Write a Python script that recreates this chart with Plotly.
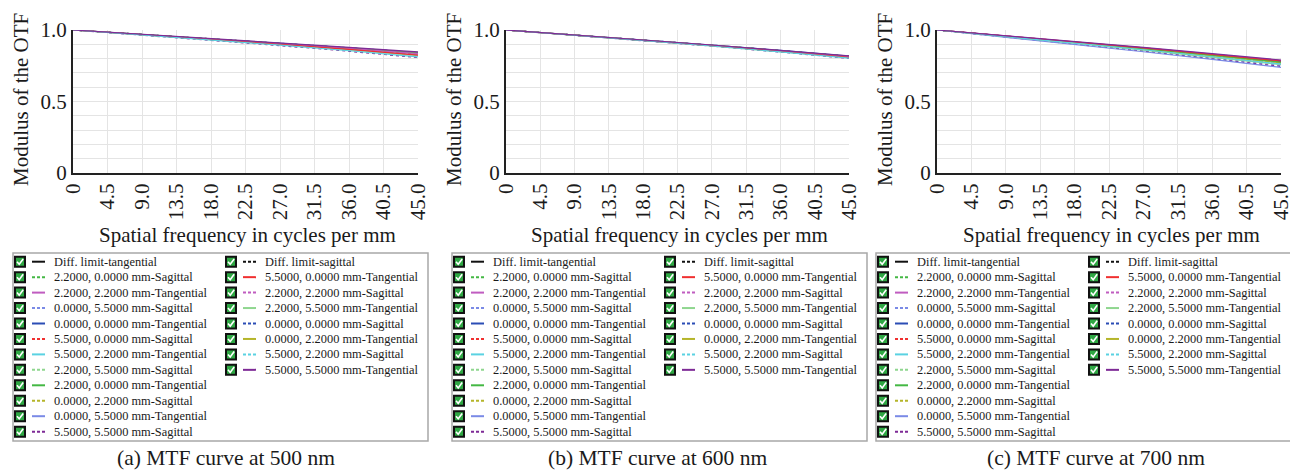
import plotly.graph_objects as go

W, H = 1290, 471

# spatial frequency samples (cycles/mm)
FREQ = [0, 9, 18, 27, 36, 45]

FIELDS = ["0.0000, 0.0000", "0.0000, 2.2000", "0.0000, 5.5000",
          "2.2000, 0.0000", "2.2000, 2.2000", "2.2000, 5.5000",
          "5.5000, 0.0000", "5.5000, 2.2000", "5.5000, 5.5000"]
FIELD_COLORS = ["#2b4db5", "#b5b52a", "#7a8ae6",
                "#44b844", "#c05cc0", "#8fd68f",
                "#f03030", "#5ad2e2", "#7e2a96"]

# MTF values, one list per field (same order as FIELDS)
MTF_500_T = [[1, 0.970, 0.940, 0.908, 0.876, 0.842],
             [1, 0.969, 0.939, 0.906, 0.873, 0.838],
             [1, 0.968, 0.935, 0.900, 0.864, 0.826],
             [1, 0.969, 0.939, 0.906, 0.873, 0.838],
             [1, 0.969, 0.938, 0.905, 0.871, 0.835],
             [1, 0.967, 0.933, 0.897, 0.860, 0.820],
             [1, 0.968, 0.935, 0.900, 0.864, 0.825],
             [1, 0.966, 0.931, 0.894, 0.855, 0.812],
             [1, 0.971, 0.941, 0.910, 0.879, 0.847]]
MTF_500_S = [[1, 0.970, 0.940, 0.908, 0.876, 0.842],
             [1, 0.970, 0.939, 0.907, 0.874, 0.840],
             [1, 0.969, 0.937, 0.903, 0.868, 0.832],
             [1, 0.970, 0.939, 0.907, 0.874, 0.840],
             [1, 0.969, 0.938, 0.905, 0.871, 0.836],
             [1, 0.968, 0.936, 0.901, 0.866, 0.828],
             [1, 0.969, 0.937, 0.903, 0.868, 0.832],
             [1, 0.967, 0.934, 0.898, 0.861, 0.822],
             [1, 0.965, 0.929, 0.891, 0.851, 0.807]]

MTF_600_T = [[1, 0.966, 0.931, 0.894, 0.857, 0.818],
             [1, 0.966, 0.930, 0.893, 0.855, 0.815],
             [1, 0.965, 0.929, 0.891, 0.852, 0.810],
             [1, 0.966, 0.930, 0.893, 0.855, 0.815],
             [1, 0.965, 0.930, 0.892, 0.854, 0.814],
             [1, 0.965, 0.928, 0.889, 0.849, 0.806],
             [1, 0.965, 0.929, 0.890, 0.851, 0.809],
             [1, 0.964, 0.927, 0.888, 0.847, 0.803],
             [1, 0.966, 0.931, 0.895, 0.858, 0.819]]
MTF_600_S = [[1, 0.966, 0.931, 0.894, 0.857, 0.817],
             [1, 0.966, 0.931, 0.893, 0.856, 0.816],
             [1, 0.966, 0.930, 0.892, 0.854, 0.813],
             [1, 0.966, 0.931, 0.893, 0.856, 0.816],
             [1, 0.966, 0.930, 0.893, 0.855, 0.815],
             [1, 0.965, 0.929, 0.891, 0.852, 0.810],
             [1, 0.965, 0.929, 0.891, 0.852, 0.811],
             [1, 0.965, 0.928, 0.889, 0.849, 0.806],
             [1, 0.964, 0.926, 0.887, 0.846, 0.801]]

MTF_700_T = [[1, 0.959, 0.916, 0.872, 0.827, 0.780],
             [1, 0.957, 0.912, 0.866, 0.819, 0.770],
             [1, 0.951, 0.900, 0.848, 0.794, 0.738],
             [1, 0.958, 0.915, 0.870, 0.824, 0.776],
             [1, 0.960, 0.919, 0.876, 0.832, 0.787],
             [1, 0.955, 0.908, 0.859, 0.809, 0.758],
             [1, 0.960, 0.918, 0.875, 0.830, 0.784],
             [1, 0.955, 0.909, 0.862, 0.813, 0.762],
             [1, 0.961, 0.920, 0.878, 0.835, 0.790]]
MTF_700_S = [[1, 0.959, 0.917, 0.873, 0.828, 0.781],
             [1, 0.957, 0.913, 0.868, 0.821, 0.772],
             [1, 0.954, 0.906, 0.856, 0.805, 0.752],
             [1, 0.958, 0.915, 0.871, 0.825, 0.778],
             [1, 0.958, 0.914, 0.869, 0.823, 0.775],
             [1, 0.956, 0.910, 0.863, 0.814, 0.764],
             [1, 0.957, 0.912, 0.865, 0.817, 0.768],
             [1, 0.956, 0.911, 0.864, 0.816, 0.766],
             [1, 0.952, 0.903, 0.852, 0.799, 0.745]]

PANELS = [("(a) MTF curve at 500 nm", MTF_500_T, MTF_500_S),
          ("(b) MTF curve at 600 nm", MTF_600_T, MTF_600_S),
          ("(c) MTF curve at 700 nm", MTF_700_T, MTF_700_S)]

X_TICKS = [0, 4.5, 9, 13.5, 18, 22.5, 27, 31.5, 36, 40.5, 45]
X_TICK_TEXT = ["0", "4.5", "9.0", "13.5", "18.0", "22.5", "27.0", "31.5", "36.0", "40.5", "45.0"]
Y_TICKS = [0, 0.1, 0.2, 0.3, 0.4, 0.5, 0.6, 0.7, 0.8, 0.9, 1.0]
Y_TICK_TEXT = ["0", "", "", "", "", "0.5", "", "", "", "", "1.0"]

# legend entries (field, T/S), two columns as in the Zemax window
LEG_COL1 = [("Diff. limit", "T"), ("2.2000, 0.0000", "S"), ("2.2000, 2.2000", "T"),
            ("0.0000, 5.5000", "S"), ("0.0000, 0.0000", "T"), ("5.5000, 0.0000", "S"),
            ("5.5000, 2.2000", "T"), ("2.2000, 5.5000", "S"), ("2.2000, 0.0000", "T"),
            ("0.0000, 2.2000", "S"), ("0.0000, 5.5000", "T"), ("5.5000, 5.5000", "S")]
LEG_COL2 = [("Diff. limit", "S"), ("5.5000, 0.0000", "T"), ("2.2000, 2.2000", "S"),
            ("2.2000, 5.5000", "T"), ("0.0000, 0.0000", "S"), ("0.0000, 2.2000", "T"),
            ("5.5000, 2.2000", "S"), ("5.5000, 5.5000", "T")]

FONT = "Liberation Serif"
TXT = "#1a1a1a"

# pixel layout
PLOT_X = [(73, 418), (506, 849), (937, 1281)]
PLOT_TOP, PLOT_BOT = 30, 173
LEG_LEFT = [13, 452, 876]
LEG_W, LEG_TOP, LEG_BOT = 415, 253, 441
CAPTION_X = [226, 657, 1096]


def px(x):
    return x / W


def py(y):
    return 1 - y / H


def entryInfo(field, kind):
    if field == "Diff. limit":
        color = "#111111"
        label = "Diff. limit-tangential" if kind == "T" else "Diff. limit-sagittal"
    else:
        color = FIELD_COLORS[FIELDS.index(field)]
        label = field + " mm-" + ("Tangential" if kind == "T" else "Sagittal")
    return color, label


def addText(annotations, text, x, y, size, xanchor="center", angle=0):
    annotations.append(dict(text=text, xref="paper", yref="paper", x=px(x), y=py(y),
                            xanchor=xanchor, yanchor="middle", textangle=angle, showarrow=False,
                            font=dict(family=FONT, size=size, color=TXT)))


fig = go.Figure()
shapes = []
annotations = []

for p, (caption, dataT, dataS) in enumerate(PANELS):
    sfx = "" if p == 0 else str(p + 1)
    for i, field in enumerate(FIELDS):
        fig.add_trace(go.Scatter(x=FREQ, y=dataS[i], mode="lines", xaxis="x" + sfx, yaxis="y" + sfx,
                                 line=dict(color=FIELD_COLORS[i], width=1.2, dash="dot"),
                                 name=field + " mm-Sagittal", showlegend=False))
    for i, field in enumerate(FIELDS):
        fig.add_trace(go.Scatter(x=FREQ, y=dataT[i], mode="lines", xaxis="x" + sfx, yaxis="y" + sfx,
                                 line=dict(color=FIELD_COLORS[i], width=1.2),
                                 name=field + " mm-Tangential", showlegend=False))

    x0, x1 = PLOT_X[p]
    fig.update_layout(**{
        "xaxis" + sfx: dict(domain=[px(x0), px(x1)], anchor="y" + sfx, range=[0, 45], automargin=False,
                            tickmode="array", tickvals=X_TICKS, ticktext=X_TICK_TEXT, tickangle=-90,
                            ticklabeloverflow="allow",
                            showgrid=True, gridcolor="#e4e4e4", gridwidth=1, zeroline=False,
                            showline=True, linecolor="#222222", linewidth=2,
                            tickfont=dict(family=FONT, size=21, color=TXT)),
        "yaxis" + sfx: dict(domain=[py(PLOT_BOT), py(PLOT_TOP)], anchor="x" + sfx, range=[0, 1],
                            automargin=False, ticklabeloverflow="allow",
                            tickmode="array", tickvals=Y_TICKS, ticktext=Y_TICK_TEXT,
                            showgrid=True, gridcolor="#e4e4e4", gridwidth=1, zeroline=False,
                            showline=True, linecolor="#222222", linewidth=2,
                            tickfont=dict(family=FONT, size=21, color=TXT)),
    })

    # axis titles and caption
    addText(annotations, "Spatial frequency in cycles per mm", (x0 + x1) / 2 + 2, 235, 21)
    addText(annotations, "Modulus of the OTF", x0 - 52, 100, 21, angle=-90)
    addText(annotations, caption, CAPTION_X[p], 458, 21.5)

    # legend box
    L = LEG_LEFT[p]
    shapes.append(dict(type="rect", xref="paper", yref="paper", x0=px(L), x1=px(L + LEG_W),
                       y0=py(LEG_BOT), y1=py(LEG_TOP), line=dict(color="#a8a8a8", width=1.5),
                       fillcolor="white", layer="below"))
    for col, entries in enumerate([LEG_COL1, LEG_COL2]):
        cbx = L + (7 if col == 0 else 218)
        for r, (field, kind) in enumerate(entries):
            cy = 261.7 + 15.45 * r
            color, label = entryInfo(field, kind)
            # checkbox
            shapes.append(dict(type="rect", xref="paper", yref="paper",
                               x0=px(cbx - 5), x1=px(cbx + 5), y0=py(cy + 5), y1=py(cy - 5),
                               line=dict(color="#111111", width=2), fillcolor="#2fa844"))
            path = "M %f,%f L %f,%f L %f,%f" % (px(cbx - 3), py(cy), px(cbx - 0.8), py(cy + 2.6),
                                                px(cbx + 3.2), py(cy - 2.8))
            shapes.append(dict(type="path", xref="paper", yref="paper", path=path,
                               line=dict(color="white", width=1.6)))
            # line sample
            shapes.append(dict(type="line", xref="paper", yref="paper",
                               x0=px(cbx + 12), x1=px(cbx + 25), y0=py(cy), y1=py(cy),
                               line=dict(color=color, width=2,
                                         dash="solid" if kind == "T" else "3px,2px")))
            addText(annotations, label, cbx + 32, cy, 12.4, xanchor="left")

fig.update_layout(width=W, height=H, margin=dict(l=0, r=0, t=0, b=0),
                  paper_bgcolor="white", plot_bgcolor="white", showlegend=False,
                  shapes=shapes, annotations=annotations)

# the page body has a default 8px margin; drop it so the figure fills the window
fig.write_html("out.html", config={"displayModeBar": False},
               post_script="document.body.style.margin='0px';document.body.style.overflow='hidden';")
